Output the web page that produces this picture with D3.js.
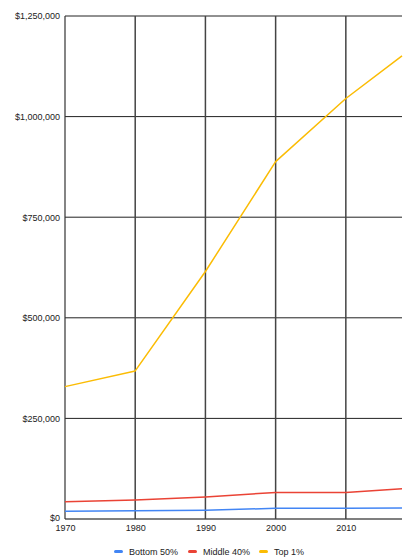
<!DOCTYPE html>
<html><head><meta charset="utf-8">
<script src="https://cdn.jsdelivr.net/npm/d3@7"></script>
<style>body{margin:0;background:#fff}svg{display:block}text{font-family:"Liberation Sans",Arial,sans-serif}</style>
</head><body>
<svg id="c" width="420" height="560"></svg>
<script>
const years = [1970, 1980, 1990, 2000, 2010, 2018];
const bottom50 = [19000, 20600, 22000, 26500, 26500, 27300];
const middle40 = [43000, 47000, 54700, 66000, 66000, 75000];
const top1 = [329000, 368000, 615000, 888000, 1045000, 1151000];
const seriesNames = ["Bottom 50%", "Middle 40%", "Top 1%"];
const seriesColors = ["#4285F4", "#EA4335", "#FBBC04"];
const xTicks = [1970, 1980, 1990, 2000, 2010];
const yTicks = [0, 250000, 500000, 750000, 1000000, 1250000];

const svg = d3.select("#c");
const L = 65, R = 402, T = 16, B = 519;
const x = d3.scaleLinear().domain([1970, 2018]).range([L, R]);
const y = d3.scaleLinear().domain([0, 1250000]).range([B, T]);

// grid
svg.append("g").selectAll("line").data(yTicks).join("line")
  .attr("x1", L).attr("x2", R).attr("y1", d => y(d)).attr("y2", d => y(d))
  .attr("stroke", d => d === 0 ? "#555" : "#222").attr("stroke-width", d => d === 0 ? 1.5 : 1);
svg.append("g").selectAll("line").data(xTicks.slice(1)).join("line")
  .attr("x1", d => x(d)).attr("x2", d => x(d)).attr("y1", T).attr("y2", B)
  .attr("stroke", "#444").attr("stroke-width", 1.5);
svg.append("line").attr("x1", L).attr("x2", L).attr("y1", T).attr("y2", B)
  .attr("stroke", "#333").attr("stroke-width", 1.2);

// axes labels
const yAxis = d3.axisLeft(y).tickValues(yTicks).tickSize(0).tickPadding(5)
  .tickFormat(d => "$" + d3.format(",")(d));
const gy = svg.append("g").attr("transform", `translate(${L},0)`).call(yAxis);
gy.select(".domain").remove();
gy.selectAll("text").attr("font-size", 9).attr("fill", "#222").style("font-family", '"Liberation Sans",Arial,sans-serif');
gy.selectAll(".tick").filter(d => d === 0).select("text").attr("dy", "0.2em");

const xAxis = d3.axisBottom(x).tickValues(xTicks).tickSize(0).tickPadding(6).tickFormat(d3.format("d"));
const gx = svg.append("g").attr("transform", `translate(0,${B})`).call(xAxis);
gx.select(".domain").remove();
gx.selectAll("text").attr("font-size", 9).attr("fill", "#222").style("font-family", '"Liberation Sans",Arial,sans-serif');

// lines
const data = [bottom50, middle40, top1];
const line = d3.line().x((d, i) => x(years[i])).y(d => y(d));
data.forEach((s, k) => {
  svg.append("path").datum(s).attr("d", line).attr("fill", "none")
    .attr("stroke", seriesColors[k]).attr("stroke-width", 1.5).attr("stroke-linejoin", "round");
});

// legend
const legX = [114, 188, 259];
const lg = svg.append("g");
seriesNames.forEach((n, k) => {
  lg.append("rect").attr("x", legX[k]).attr("y", 550).attr("width", 9).attr("height", 3).attr("rx", 1.5)
    .attr("fill", seriesColors[k]);
  lg.append("text").attr("x", legX[k] + 15).attr("y", 555).attr("font-size", 9).attr("fill", "#222").text(n);
});
</script>
</body></html>
